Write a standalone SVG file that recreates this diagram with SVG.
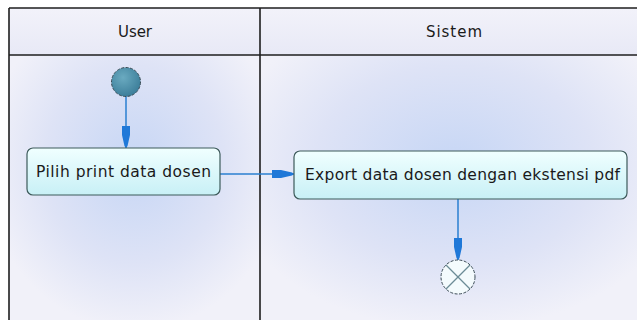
<svg xmlns="http://www.w3.org/2000/svg" width="637" height="320" viewBox="0 0 637 320">
<style>
.lbl{font-family:"DejaVu Sans",Verdana,sans-serif;font-size:15.5px;fill:#1a1a1a;text-anchor:middle}
.hdr{font-family:"DejaVu Sans",Verdana,sans-serif;font-size:15px;fill:#1a1a1a;text-anchor:middle}
.frame{fill:none;stroke:#1e1e1e;stroke-width:1.6}
.act{fill:url(#actG);stroke:#3d5a5a;stroke-width:1.2}
.conn{fill:none;stroke:#2a7fd0;stroke-width:1.5}
</style>
<defs>
<radialGradient id="laneG" cx="0.5" cy="0.4" r="0.6">
<stop offset="0" stop-color="#c6d6f5"/>
<stop offset="0.6" stop-color="#dee3f6"/>
<stop offset="1" stop-color="#f1f1f9"/>
</radialGradient>
<linearGradient id="hdrG" x1="0" y1="0" x2="0" y2="1">
<stop offset="0" stop-color="#f2f2fa"/>
<stop offset="1" stop-color="#e8e9f6"/>
</linearGradient>
<linearGradient id="actG" x1="0" y1="0" x2="0" y2="1">
<stop offset="0" stop-color="#f0ffff"/>
<stop offset="1" stop-color="#c8f0f6"/>
</linearGradient>
<radialGradient id="startG" cx="0.4" cy="0.35" r="0.7">
<stop offset="0" stop-color="#6aaac0"/>
<stop offset="1" stop-color="#3a7c98"/>
</radialGradient>
<marker id="arr" viewBox="0 0 22 10" refX="22" refY="5" markerWidth="22" markerHeight="10" markerUnits="userSpaceOnUse" orient="auto">
<polygon points="0,1 9,1 20,3.5 22,5 20,6.5 9,9 0,9" fill="#1f78d8"/>
</marker>
</defs>
<rect x="9" y="8" width="640" height="320" fill="#f1f1f9"/>
<rect x="9" y="55" width="251" height="275" fill="url(#laneG)"/>
<rect x="260" y="55" width="390" height="275" fill="url(#laneG)"/>
<rect x="9" y="8" width="640" height="47" fill="url(#hdrG)"/>
<g id="frame">
<line class="frame" x1="9" y1="8" x2="637" y2="8"/>
<line class="frame" x1="9" y1="8" x2="9" y2="320"/>
<line class="frame" x1="9" y1="55" x2="637" y2="55"/>
<line class="frame" x1="260" y1="8" x2="260" y2="320"/>
</g>
<g id="lane-user"><text class="hdr" x="135" y="37" textLength="34">User</text></g>
<g id="lane-sistem"><text class="hdr" x="454" y="37" textLength="56">Sistem</text></g>
<g id="connectors">
<line class="conn" x1="126" y1="96" x2="126" y2="148" marker-end="url(#arr)"/>
<line class="conn" x1="220" y1="174" x2="294" y2="174" marker-end="url(#arr)"/>
<line class="conn" x1="458" y1="199" x2="458" y2="260" marker-end="url(#arr)"/>
</g>
<g id="start">
<circle cx="126" cy="82" r="14.5" fill="url(#startG)" stroke="#3b4b55" stroke-width="1" stroke-dasharray="3,1.5"/>
</g>
<g id="pilih">
<rect class="act" x="27" y="148" width="193" height="47" rx="6"/>
<text class="lbl" x="123.5" y="177" textLength="175">Pilih print data dosen</text>
</g>
<g id="export">
<rect class="act" x="294" y="151" width="333" height="48" rx="6"/>
<text class="lbl" x="462.5" y="180" textLength="315">Export data dosen dengan ekstensi pdf</text>
</g>
<g id="end">
<circle cx="458" cy="277" r="17" fill="#f4fbfd" stroke="#3b4b55" stroke-width="1" stroke-dasharray="3,1.5"/>
<line x1="446" y1="265" x2="470" y2="289" stroke="#6c8c96" stroke-width="1.3"/>
<line x1="470" y1="265" x2="446" y2="289" stroke="#6c8c96" stroke-width="1.3"/>
</g>
</svg>
